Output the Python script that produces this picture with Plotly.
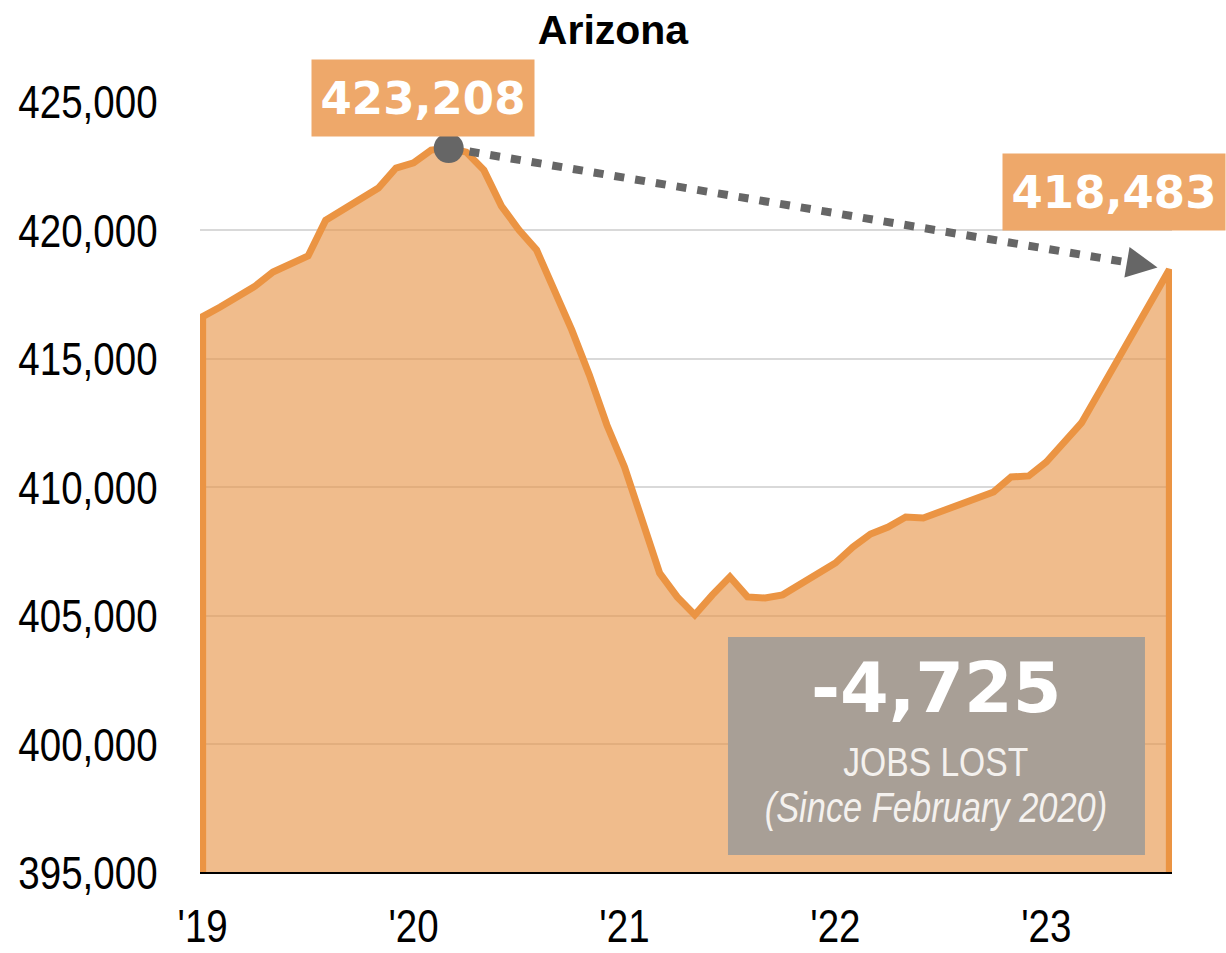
import plotly.graph_objects as go

# Monthly employment, January 2019 through August 2023
TITLE = "Arizona"
EMPLOYMENT = [
    416650, 417020, 417410, 417840, 418385, 418700, 419010, 420400, 420840, 421225, 421650, 422430,  # 2019
    422630, 423130, 423208, 423050, 422350, 420950, 420020, 419240, 417685, 416130, 414380, 412430,  # 2020
    410800, 408660, 406670, 405740, 405040, 405820, 406520, 405740, 405700, 405820, 406245, 406670,  # 2021
    407060, 407685, 408190, 408460, 408850, 408810, 409050, 409360, 409550, 409825, 410410, 410450,  # 2022
    410990, 411730, 412510, 413700, 414900, 416100, 417300, 418483,                                  # 2023
]
MONTH_INDEX = list(range(len(EMPLOYMENT)))
YEAR_TICK_POS = [0, 12, 24, 36, 48]
YEAR_TICK_LABELS = ["'19", "'20", "'21", "'22", "'23"]
Y_TICKS = [395000, 400000, 405000, 410000, 415000, 420000, 425000]
Y_MIN, Y_MAX = 395000, 425000
SINCE_TEXT = "(Since February 2020)"

# styling
LINE_ORANGE = "#EB9443"
FILL_ORANGE = "rgba(231,147,70,0.62)"
LABEL_ORANGE = "#EEA86A"
DARK_GREY = "#666666"
BOX_GREY = "#A89F96"
NARROW = "Liberation Sans, Arial, sans-serif"   # condensed horizontally after render
TITLE_FONT = "Arial, sans-serif"
WIDE_BOLD = "DejaVu Sans, Verdana, sans-serif"

peak_i = max(MONTH_INDEX, key=lambda i: EMPLOYMENT[i])
peak_v = EMPLOYMENT[peak_i]
last_i = MONTH_INDEX[-1]
last_v = EMPLOYMENT[-1]
change = last_v - peak_v

fig = go.Figure()

# filled area, closed down to the axis floor so the outline runs up both sides
fig.add_trace(go.Scatter(
    x=[MONTH_INDEX[0]] + MONTH_INDEX + [last_i],
    y=[Y_MIN] + EMPLOYMENT + [Y_MIN],
    mode="lines", fill="toself", fillcolor=FILL_ORANGE,
    line=dict(color=LINE_ORANGE, width=7),
    hoverinfo="skip", showlegend=False,
))

# dotted connector from the peak toward the latest month
ARROW_STOP = 0.965
conn_x = peak_i + ARROW_STOP * (last_i - peak_i)
conn_y = peak_v + ARROW_STOP * (last_v - peak_v)
fig.add_trace(go.Scatter(
    x=[peak_i, conn_x], y=[peak_v, conn_y], mode="lines",
    line=dict(color=DARK_GREY, width=8, dash="10px,11px"),
    hoverinfo="skip", showlegend=False,
))

# peak marker
fig.add_trace(go.Scatter(
    x=[peak_i], y=[peak_v], mode="markers",
    marker=dict(size=30, color=DARK_GREY),
    hoverinfo="skip", showlegend=False,
))

# arrow head aimed at the latest month
TAIL = 0.95
fig.add_annotation(
    x=last_i, y=last_v, xref="x", yref="y",
    ax=peak_i + TAIL * (last_i - peak_i), ay=peak_v + TAIL * (last_v - peak_v),
    axref="x", ayref="y", text="", showarrow=True,
    arrowhead=2, arrowwidth=2, arrowsize=3.1, arrowcolor=DARK_GREY, standoff=12,
)

# value labels
fig.add_annotation(
    x=peak_i, y=peak_v, xref="x", yref="y", text=f"<b>{peak_v:,}</b>",
    showarrow=False, xshift=-26, yshift=50,
    font=dict(family=WIDE_BOLD, size=45, color="white"),
    bgcolor=LABEL_ORANGE, width=218, height=72, borderpad=2,
)
fig.add_annotation(
    x=last_i, y=last_v, xref="x", yref="y", text=f"<b>{last_v:,}</b>",
    showarrow=False, xshift=-55, yshift=77,
    font=dict(family=WIDE_BOLD, size=45, color="white"),
    bgcolor=LABEL_ORANGE, width=218, height=72, borderpad=2,
)

# summary box
fig.add_shape(type="rect", xref="paper", yref="paper",
              x0=0.5432, x1=0.9722, y0=0.0271, y1=0.3088,
              fillcolor=BOX_GREY, line=dict(width=0), layer="above")
BOX_TEXT = dict(xref="paper", yref="paper", xanchor="center", yanchor="middle", showarrow=False)
fig.add_annotation(x=0.757, y=0.2429, text=f"<b>{change:,}</b>",
                   font=dict(family=WIDE_BOLD, size=70, color="white"), **BOX_TEXT)
fig.add_annotation(x=0.757, y=0.1473, text="JOBS LOST",
                   font=dict(family=NARROW, size=41, color="#F4F1EE"), **BOX_TEXT)
fig.add_annotation(x=0.757, y=0.0879, text=f"<i>{SINCE_TEXT}</i>",
                   font=dict(family=NARROW, size=42, color="#F4F1EE"), **BOX_TEXT)

# baseline
fig.add_shape(type="line", xref="paper", yref="y", x0=0, x1=1, y0=Y_MIN, y1=Y_MIN,
              line=dict(color="black", width=2), layer="above")

fig.update_layout(
    width=1226, height=953,
    margin=dict(l=200, r=54, t=102, b=77),
    paper_bgcolor="white", plot_bgcolor="white",
    title=dict(text=f"<b>{TITLE}</b>", x=0.5, xref="container", xanchor="center",
               y=1 - 30 / 953, yref="container", yanchor="middle",
               font=dict(family=TITLE_FONT, size=41, color="black")),
    xaxis=dict(range=[-0.15, last_i + 0.15], tickmode="array",
               tickvals=YEAR_TICK_POS, ticktext=YEAR_TICK_LABELS,
               showgrid=False, zeroline=False, showline=False, automargin=False,
               ticks="outside", ticklen=9, tickcolor="rgba(0,0,0,0)",
               tickfont=dict(family=NARROW, size=47, color="black")),
    yaxis=dict(range=[Y_MIN - 120, Y_MAX], tickmode="array",
               tickvals=Y_TICKS, ticktext=[f"{v:,}" for v in Y_TICKS],
               showgrid=True, gridcolor="#D9D9D9", gridwidth=2,
               zeroline=False, showline=False, automargin=False,
               ticks="outside", ticklen=32, tickcolor="rgba(0,0,0,0)",
               tickfont=dict(family=NARROW, size=47, color="black")),
)

# Narrow-style lettering: squeeze the sans-serif labels horizontally about their anchors
NARROW_JS = """
var gd = document.getElementById('{plot_id}');
gd.querySelectorAll('text').forEach(function (t) {
    var ff = t.style.fontFamily || '';
    if (ff.indexOf('Liberation Sans') === -1) { return; }
    var x = parseFloat(t.getAttribute('x')) || 0;
    var y = parseFloat(t.getAttribute('y')) || 0;
    var tr = t.getAttribute('transform') || '';
    t.setAttribute('transform', tr + ' translate(' + x + ',' + y + ') scale(0.82,1) translate(' + (-x) + ',' + (-y) + ')');
});
"""

fig.write_html("out.html", post_script=NARROW_JS)
